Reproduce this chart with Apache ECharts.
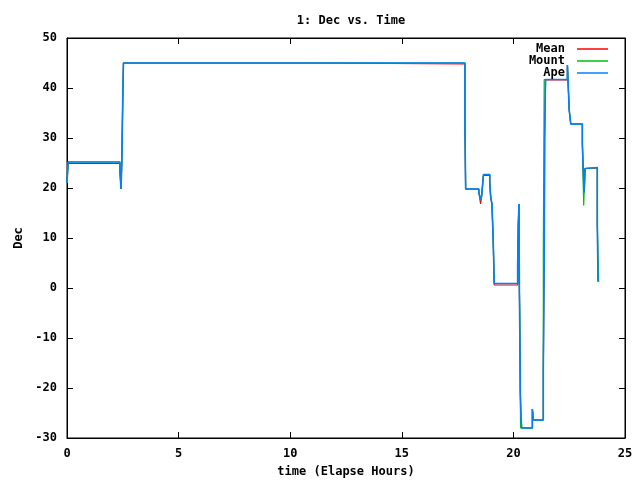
<!DOCTYPE html>
<html>
<head>
<meta charset="utf-8">
<script src="https://cdn.jsdelivr.net/npm/echarts@6/dist/echarts.min.js"></script>
<style>
  html, body { margin: 0; padding: 0; background: #fff; }
  #main { width: 640px; height: 480px; }
</style>
</head>
<body>
<div id="main"></div>
<script type="text/javascript">
// data: [elapsed hours, Dec], each value holds until the next time
var meanData = [
  [0.0, 21], [0.05, 24.9], [2.37, 23.6], [2.42, 19.8], [2.46, 26], [2.5, 38.6], [2.53, 45],
  [10.97, 44.8], [17.83, 32.3], [17.86, 19.8], [18.45, 19.2], [18.53, 16.8], [18.58, 18.5],
  [18.63, 21.2], [18.66, 22.5], [18.94, 21.2], [18.98, 18.3], [19.04, 16.8], [19.1, 8.8],
  [19.14, 0.6], [20.19, 4.8], [20.22, 12.8], [20.25, 16.8], [20.27, -1], [20.31, -21],
  [20.34, -25.7], [20.37, -28], [20.85, -24.2], [20.89, -26.4], [21.34, -16.6], [21.38, 5.3],
  [21.4, 29.6], [21.44, 41.6], [22.42, 44.6], [22.5, 35.6], [22.57, 32.8], [23.09, 28.8],
  [23.15, 20.8], [23.17, 19.1], [23.21, 23.9], [23.24, 24.0], [23.76, 12.8], [23.79, 1.3]
];
var mountData = [
  [0.0, 21], [0.05, 25.2], [2.37, 23.6], [2.42, 19.8], [2.46, 26], [2.5, 38.6], [2.53, 45],
  [17.83, 32.3], [17.86, 19.8], [18.45, 19.2], [18.53, 17.6], [18.58, 18.5],
  [18.63, 21.2], [18.66, 22.7], [18.94, 21.2], [18.98, 18.3], [19.04, 16.8], [19.1, 8.8],
  [19.14, 0.9], [20.19, 4.8], [20.22, 12.8], [20.25, 16.8], [20.27, -1], [20.29, -5.5],
  [20.31, -21], [20.32, -28], [20.85, -24.2], [20.89, -26.4], [21.34, 7.6], [21.38, 41.7],
  [22.42, 44.6], [22.5, 35.6], [22.57, 32.8], [23.09, 28.8], [23.15, 16.5], [23.17, 19.1],
  [23.21, 23.9], [23.24, 24.1], [23.76, 12.8], [23.82, 1.2]
];
var apeData = [
  [0.0, 21], [0.05, 25.2], [2.37, 23.6], [2.42, 19.8], [2.46, 26], [2.5, 38.6], [2.53, 45],
  [17.83, 32.3], [17.86, 19.8], [18.45, 19.2], [18.53, 17.6], [18.58, 18.5],
  [18.63, 21.2], [18.66, 22.7], [18.94, 21.2], [18.98, 18.3], [19.04, 16.8], [19.1, 8.8],
  [19.14, 0.9], [20.19, 4.8], [20.22, 12.8], [20.25, 16.8], [20.27, -1], [20.31, -21],
  [20.34, -25.7], [20.37, -28], [20.85, -24.2], [20.89, -26.4], [21.34, -16.6], [21.38, 5.3],
  [21.4, 29.6], [21.44, 41.7], [22.42, 44.6], [22.5, 35.6], [22.57, 32.8], [23.09, 28.8],
  [23.15, 20.8], [23.17, 19.1], [23.21, 23.9], [23.24, 24.1], [23.76, 12.8], [23.79, 1.3]
];
var seriesNames = ['Mean', 'Mount', 'Ape'];
var seriesColors = ['#ff0000', '#00c000', '#0080ff'];
var seriesWidths = [1.2, 1.2, 1.6];

var font = 'DejaVu Sans Mono';
var chart = echarts.init(document.getElementById('main'));

function makeSeries(i, data) {
  return {
    name: seriesNames[i],
    type: 'line',
    step: 'end',
    symbol: 'none',
    animation: false,
    lineStyle: { color: seriesColors[i], width: seriesWidths[i] },
    itemStyle: { color: seriesColors[i] },
    data: data
  };
}

function tick() {
  return { show: true, inside: true, length: 6, lineStyle: { color: '#000', width: 1 } };
}
function axisLine() {
  return { show: true, onZero: false, lineStyle: { color: '#000' } };
}
var labelCommon = { color: '#000', fontFamily: font, fontWeight: 'bold', fontSize: 12 };

chart.setOption({
  animation: false,
  title: {
    text: '1: Dec vs. Time',
    left: 346, top: 10, textAlign: 'center',
    textStyle: { fontFamily: font, fontWeight: 'bold', fontSize: 12, color: '#000' }
  },
  legend: {
    data: seriesNames,
    orient: 'vertical',
    align: 'right',
    right: 27, top: 38,
    itemWidth: 31, itemHeight: 13, itemGap: 0,
    icon: 'path://M0,0 L31,0 L31,1.5 L0,1.5 Z',
    textStyle: { fontFamily: font, fontWeight: 'bold', fontSize: 12, color: '#000', padding: [0, 7, 0, 0] }
  },
  grid: {
    left: 67, right: 15, top: 38, bottom: 42,
    outerBoundsMode: 'none', containLabel: false,
    show: true, borderColor: '#000', borderWidth: 1
  },
  xAxis: [{
    type: 'value', min: 0, max: 25, interval: 5,
    name: 'time (Elapse Hours)', nameLocation: 'middle', nameGap: 28,
    nameTextStyle: labelCommon,
    axisLine: axisLine(),
    axisTick: tick(),
    axisLabel: Object.assign({ margin: 10 }, labelCommon),
    splitLine: { show: false }
  }, {
    type: 'value', min: 0, max: 25, interval: 5, position: 'top',
    axisLine: axisLine(),
    axisTick: tick(), axisLabel: { show: false }, splitLine: { show: false }
  }],
  yAxis: [{
    type: 'value', min: -30, max: 50, interval: 10,
    name: 'Dec', nameLocation: 'middle', nameGap: 37, nameRotate: 90,
    nameTextStyle: labelCommon,
    axisLine: axisLine(),
    axisTick: tick(),
    axisLabel: Object.assign({ margin: 10 }, labelCommon),
    splitLine: { show: false }
  }, {
    type: 'value', min: -30, max: 50, interval: 10, position: 'right',
    axisLine: axisLine(),
    axisTick: tick(), axisLabel: { show: false }, splitLine: { show: false }
  }],
  series: [makeSeries(0, meanData), makeSeries(1, mountData), makeSeries(2, apeData)]
});
</script>
</body>
</html>
